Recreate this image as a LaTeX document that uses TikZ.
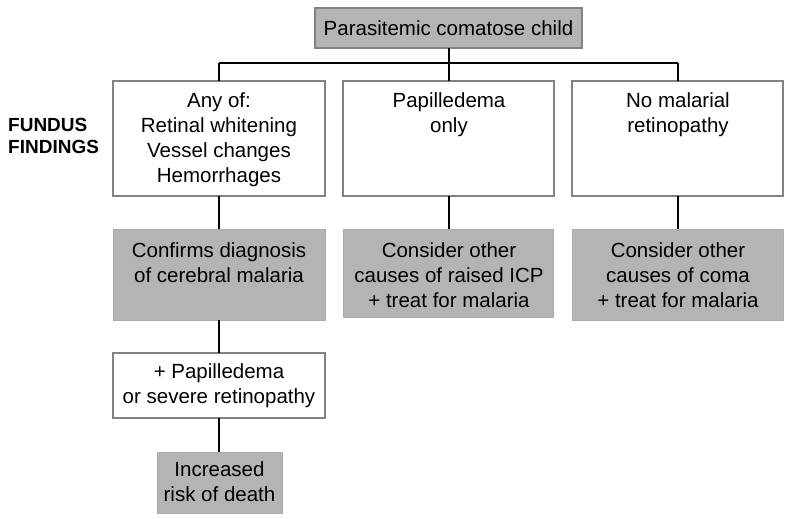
\documentclass[tikz,border=0pt]{standalone}
\usepackage{fontspec}
\setmainfont{Liberation Sans}
\definecolor{boxgray}{RGB}{180,180,180}
\definecolor{edgegray}{RGB}{130,130,130}
\begin{document}
\begin{tikzpicture}[x=1pt,y=-1pt,
  txt/.style={font=\fontsize{20.5}{25}\selectfont, align=center, inner sep=0pt},
  whitebox/.style={draw=edgegray, line width=1.3pt, fill=white},
  graybox/.style={draw=boxgray!95!black, line width=0.8pt, fill=boxgray},
  topbox/.style={draw=edgegray, line width=1.3pt, fill=boxgray},
  conn/.style={black, line width=1.4pt}]
\useasboundingbox (0,0) rectangle (792,519);
% boxes
\draw[topbox] (315,8) rectangle (582,48);
\node[txt] (top) at (448.5,28) {Parasitemic comatose child};
\coordinate (topb) at (449,48);
\draw[whitebox] (113,81) rectangle (325,196);
\draw[whitebox] (343,81) rectangle (554,196);
\draw[whitebox] (572,81) rectangle (783,196);
\draw[graybox] (113,229) rectangle (325,320);
\draw[graybox] (343,229) rectangle (553,317);
\draw[graybox] (572,229) rectangle (783,320);
\draw[whitebox] (113,353) rectangle (325,418);
\draw[graybox] (157,452) rectangle (282,513);
% named anchors
\coordinate (b1t) at (219,81);  \coordinate (b1b) at (219,196);
\coordinate (b2t) at (449,81);  \coordinate (b2b) at (449,196);
\coordinate (b3t) at (678,81);  \coordinate (b3b) at (678,196);
\coordinate (g1t) at (219,229); \coordinate (g1b) at (219,320);
\coordinate (g2t) at (449,229);
\coordinate (g3t) at (678,229);
\coordinate (w7t) at (219,353); \coordinate (w7b) at (219,418);
\coordinate (g8t) at (219,452);
\coordinate (hl) at (219,63); \coordinate (hm) at (449,63); \coordinate (hr) at (678,63);
% connectors
\draw[conn] (topb) -- (hm);
\draw[conn] (hl) -- (hr);
\draw[conn] (hl) -- (b1t);
\draw[conn] (hm) -- (b2t);
\draw[conn] (hr) -- (b3t);
\draw[conn] (b1b) -- (g1t);
\draw[conn] (b2b) -- (g2t);
\draw[conn] (b3b) -- (g3t);
\draw[conn] (g1b) -- (w7t);
\draw[conn] (w7b) -- (g8t);
% texts
\node[txt, font=\fontsize{19}{22}\selectfont\bfseries, align=left, anchor=west] (fund) at (8,136) {FUNDUS\\FINDINGS};
\node[txt] (t1) at (219,139.5) {Any of:\\Retinal whitening\\Vessel changes\\Hemorrhages};
\node[txt] (t2) at (449,114.5) {Papilledema\\only};
\node[txt] (t3) at (678,114.5) {No malarial\\retinopathy};
\node[txt] (t4) at (219,262.5) {Confirms diagnosis\\of cerebral malaria};
\node[txt] (t5) at (449,275) {Consider other\\causes of raised ICP\\+ treat for malaria};
\node[txt] (t6) at (678,275) {Consider other\\causes of coma\\+ treat for malaria};
\node[txt] (t7) at (219,385.5) {+ Papilledema\\or severe retinopathy};
\node[txt] (t8) at (219.5,482) {Increased\\risk of death};
\end{tikzpicture}
\end{document}
